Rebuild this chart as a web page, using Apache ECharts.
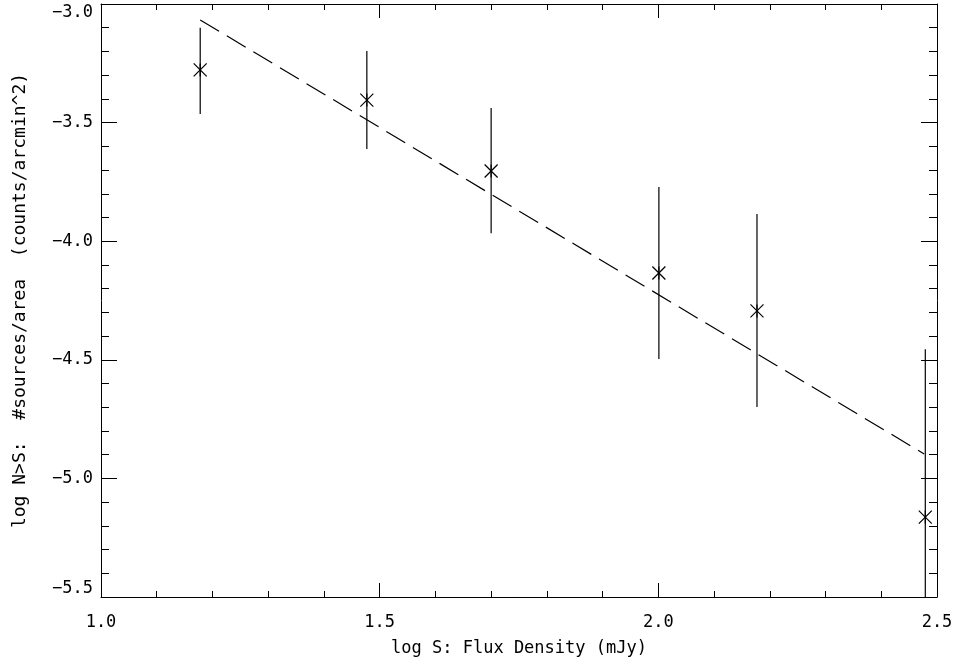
<!DOCTYPE html>
<html><head><meta charset="utf-8">
<script src="https://cdn.jsdelivr.net/npm/echarts@6/dist/echarts.min.js"></script>
<style>html,body{margin:0;padding:0;background:#fff}#c{width:956px;height:664px}</style>
</head><body><div id="c"></div>
<script>
// Data
const logS      = [1.178, 1.477, 1.700, 2.001, 2.177, 2.479];
const logN      = [-3.278, -3.405, -3.704, -4.134, -4.294, -5.163];
const errLow    = [-3.464, -3.611, -3.966, -4.497, -4.699, -5.62];
const errHigh   = [-3.100, -3.198, -3.438, -3.771, -3.885, -4.455];
const fitX      = [1.178, 2.477];
const fitY      = [-3.067, -4.897];
const xTicks    = [1.0, 1.5, 2.0, 2.5];
const yTicks    = [-3.0, -3.5, -4.0, -4.5, -5.0, -5.5];

const FONT = 'DejaVu Sans Mono';
const fmt = v => (v < 0 ? '\u2212' : '') + Math.abs(v).toFixed(1);

const pts = logS.map((x, i) => [x, logN[i], errLow[i], errHigh[i]]);
const axLine = {show: true, onZero: false, lineStyle: {color: '#000', width: 1}};

const chart = echarts.init(document.getElementById('c'), null, {renderer: 'canvas'});
chart.setOption({
  animation: false,
  backgroundColor: '#fff',
  grid: {left: 101, right: 19, top: 4, bottom: 67, containLabel: false},
  xAxis: [{
    type: 'value', min: xTicks[0], max: xTicks[xTicks.length - 1], interval: 0.5,
    axisLine: axLine,
    axisTick: {show: true, inside: true, length: 14, lineStyle: {color: '#000'}},
    minorTick: {show: true, splitNumber: 5, length: 6, lineStyle: {color: '#000'}},
    splitLine: {show: false},
    axisLabel: {formatter: fmt, color: '#000', fontFamily: FONT, fontSize: 17, margin: 17},
    name: 'log S: Flux Density (mJy)', nameLocation: 'middle', nameGap: 43,
    nameTextStyle: {color: '#000', fontFamily: FONT, fontSize: 17}
  }, {
    type: 'value', position: 'top', min: xTicks[0], max: xTicks[xTicks.length - 1], interval: 0.5,
    axisLine: axLine,
    axisTick: {show: true, inside: true, length: 14, lineStyle: {color: '#000'}},
    minorTick: {show: true, splitNumber: 5, length: 6, lineStyle: {color: '#000'}},
    splitLine: {show: false}, axisLabel: {show: false}
  }],
  yAxis: [{
    type: 'value', min: yTicks[yTicks.length - 1], max: yTicks[0], interval: 0.5,
    axisLine: axLine,
    axisTick: {show: true, inside: true, length: 16, lineStyle: {color: '#000'}},
    minorTick: {show: true, splitNumber: 5, length: 8, lineStyle: {color: '#000'}},
    splitLine: {show: false},
    axisLabel: {formatter: fmt, color: '#000', fontFamily: FONT, fontSize: 17, margin: 8,
                verticalAlignMaxLabel: 'top', verticalAlignMinLabel: 'bottom'},
    name: 'log N>S:  #sources/area  (counts/arcmin^2)', nameLocation: 'middle', nameGap: 72,
    nameRotate: 90,
    nameTextStyle: {color: '#000', fontFamily: FONT, fontSize: 18}
  }, {
    type: 'value', position: 'right', min: yTicks[yTicks.length - 1], max: yTicks[0], interval: 0.5,
    axisLine: axLine,
    axisTick: {show: true, inside: true, length: 16, lineStyle: {color: '#000'}},
    minorTick: {show: true, splitNumber: 5, length: 8, lineStyle: {color: '#000'}},
    splitLine: {show: false}, axisLabel: {show: false}
  }],
  series: [{
    type: 'line', xAxisIndex: 0, yAxisIndex: 0,
    data: fitX.map((x, i) => [x, fitY[i]]),
    symbol: 'none', silent: true,
    lineStyle: {color: '#000', width: 1.2, type: [22, 9]}
  }, {
    type: 'custom', xAxisIndex: 0, yAxisIndex: 0, clip: true, silent: true,
    data: pts,
    renderItem: function (params, api) {
      const c = api.coord([api.value(0), api.value(1)]);
      const lo = api.coord([api.value(0), api.value(2)]);
      const hi = api.coord([api.value(0), api.value(3)]);
      const s = 6.5;
      const st = {stroke: '#000', lineWidth: 1.2, fill: null};
      return {
        type: 'group',
        children: [
          {type: 'line', shape: {x1: lo[0], y1: lo[1], x2: hi[0], y2: hi[1]}, style: st},
          {type: 'line', shape: {x1: c[0], y1: c[1] - s, x2: c[0], y2: c[1] + s}, style: st},
          {type: 'line', shape: {x1: c[0] - s, y1: c[1] - s, x2: c[0] + s, y2: c[1] + s}, style: st},
          {type: 'line', shape: {x1: c[0] - s, y1: c[1] + s, x2: c[0] + s, y2: c[1] - s}, style: st}
        ]
      };
    }
  }]
});
</script>
</body></html>
